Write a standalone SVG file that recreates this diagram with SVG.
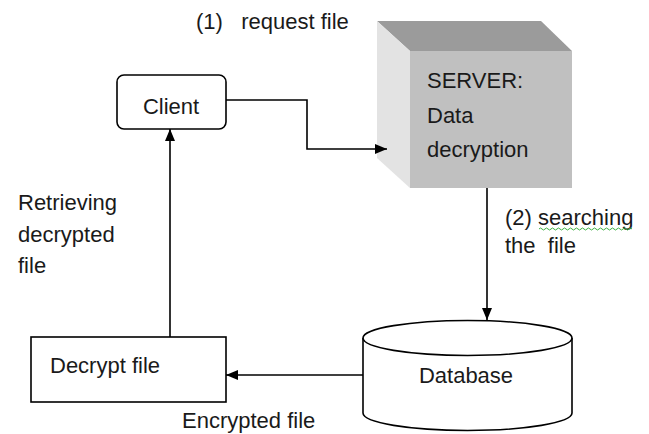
<svg xmlns="http://www.w3.org/2000/svg" width="649" height="434" viewBox="0 0 649 434">
<style>
text{font-family:"Liberation Sans",Arial,sans-serif;font-size:22px;fill:#1a1a1a}
.ln{fill:none;stroke:#000;stroke-width:1.6}
.box{fill:#fff;stroke:#000;stroke-width:1.6}
</style>
<defs>
<marker id="ah" viewBox="0 0 12 10" refX="12" refY="5" markerWidth="12" markerHeight="10" markerUnits="userSpaceOnUse" orient="auto">
<path d="M0,0 L12,5 L0,10 Z" fill="#000"/>
</marker>
</defs>
<rect width="649" height="434" fill="#fff"/>
<g id="server">
<polygon points="377,21 541,21 572,51 410,51" fill="#9b9b9b"/>
<polygon points="377,21 410,51 410,188 377,158" fill="#e3e3e3"/>
<rect x="410" y="51" width="162" height="137" fill="#c0c0c0"/>
<text x="427" y="88">SERVER:</text>
<text x="427" y="123">Data</text>
<text x="427" y="157">decryption</text>
</g>
<g id="client">
<rect class="box" x="117" y="75" width="109" height="54" rx="7"/>
<text x="171" y="114" text-anchor="middle">Client</text>
</g>
<g id="decrypt">
<rect class="box" x="31" y="337" width="195" height="65"/>
<text x="50" y="373">Decrypt file</text>
</g>
<g id="database">
<path class="box" d="M363,338 V413 A104.5,17.5 0 0 0 572,413 V338"/>
<ellipse class="box" cx="467.5" cy="338" rx="104.5" ry="17.5"/>
<text x="466" y="383" text-anchor="middle">Database</text>
</g>
<g id="connectors">
<path class="ln" d="M226,100 H307 V149 H387" marker-end="url(#ah)"/>
<path class="ln" d="M487,188 V320" marker-end="url(#ah)"/>
<path class="ln" d="M363,375 H226" marker-end="url(#ah)"/>
<path class="ln" d="M170,337 V129" marker-end="url(#ah)"/>
</g>
<g id="labels">
<text x="196" y="29" xml:space="preserve">(1)   request file</text>
<text x="18" y="210">Retrieving</text>
<text x="18" y="242">decrypted</text>
<text x="18" y="273">file</text>
<text x="505" y="225">(2) searching</text>
<path d="M539,229 q1.5,-2 3,0 t3,0 t3,0 t3,0 t3,0 t3,0 t3,0 t3,0 t3,0 t3,0 t3,0 t3,0 t3,0 t3,0 t3,0 t3,0 t3,0 t3,0 t3,0 t3,0 t3,0 t3,0 t3,0 t3,0 t3,0 t3,0 t3,0 t3,0 t3,0 t3,0 t3,0" fill="none" stroke="#3cb043" stroke-width="1"/>
<text x="505" y="253" xml:space="preserve">the  file</text>
<text x="182" y="428">Encrypted file</text>
</g>
</svg>
